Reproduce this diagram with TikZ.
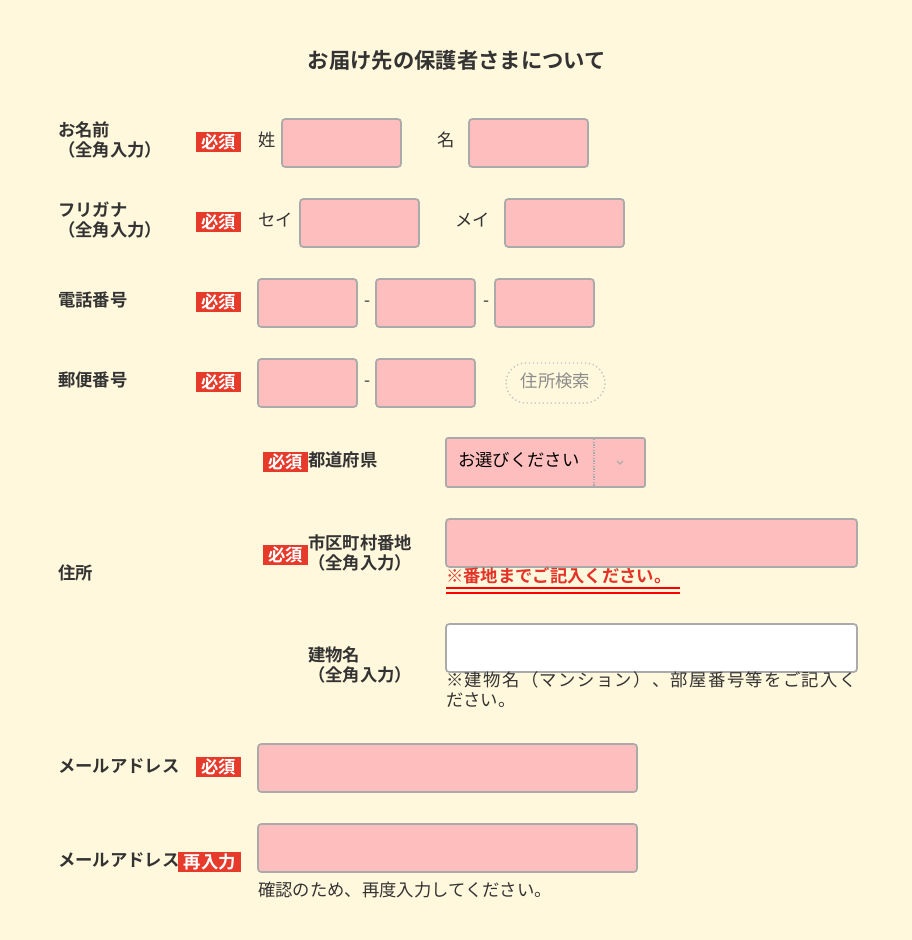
\documentclass[tikz,border=0pt]{standalone}
\usepackage{fontspec}
\setmainfont{Noto Sans CJK JP}[BoldFont={Noto Sans CJK JP Bold}]
\definecolor{bgc}{RGB}{255,248,220}
\definecolor{pinkf}{RGB}{255,190,190}
\definecolor{bord}{RGB}{170,170,170}
\definecolor{badgec}{RGB}{230,58,43}
\definecolor{txt}{RGB}{51,51,51}
\definecolor{redt}{RGB}{228,50,40}
\definecolor{btxt}{RGB}{140,140,140}
\begin{document}
\begin{tikzpicture}[x=0.75pt,y=-0.75pt,
  lbl/.style={anchor=west,inner sep=0pt,text=txt,font=\fontsize{13}{15}\selectfont\bfseries,align=left},
  plain/.style={anchor=west,inner sep=0pt,text=txt,font=\fontsize{13}{15}\selectfont,align=left},
  badge/.style={fill=badgec,text=white,inner sep=0pt,font=\fontsize{13}{13}\selectfont\bfseries,minimum height=15pt,anchor=west},
  field/.style={draw=bord,fill=pinkf,line width=1.3pt,rounded corners=2.5pt},
  wfield/.style={draw=bord,fill=white,line width=1.3pt,rounded corners=2.5pt}]
\fill[bgc] (0,0) rectangle (912,940);
\useasboundingbox (0,0) rectangle (912,940);
% title
\node[text=txt,font=\fontsize{16}{18}\selectfont\bfseries,inner sep=0pt] (title) at (457,60) {お届け先の保護者さまについて};
% row 1
\node[lbl] (l1) at (58,140) {お名前\\（全角入力）};
\node[badge,minimum width=33.75pt] (b1) at (196,142) {必須};
\node[plain] (sei) at (258,140) {姓};
\draw[field] (282,119) rectangle (401,167);
\node[plain] (mei) at (437,140) {名};
\draw[field] (469,119) rectangle (588,167);
% row 2
\node[lbl] (l2) at (58,220) {フリガナ\\（全角入力）};
\node[badge,minimum width=33.75pt] (b2) at (196,222) {必須};
\node[plain] (seik) at (258,220) {セイ};
\draw[field] (300,199) rectangle (419,247);
\node[plain] (meik) at (455,220) {メイ};
\draw[field] (505,199) rectangle (624,247);
% row 3
\node[lbl] (l3) at (58,300) {電話番号};
\node[badge,minimum width=33.75pt] (b3) at (196,302) {必須};
\draw[field] (258,279) rectangle (357,327);
\node[plain] (d1) at (364,304) {-};
\draw[field] (376,279) rectangle (475,327);
\node[plain] (d2) at (483,304) {-};
\draw[field] (495,279) rectangle (594,327);
% row 4
\node[lbl] (l4) at (58,380) {郵便番号};
\node[badge,minimum width=33.75pt] (b4) at (196,382) {必須};
\draw[field] (258,359) rectangle (357,407);
\node[plain] (d3) at (364,384) {-};
\draw[field] (376,359) rectangle (475,407);
\draw[draw=bord!70,dotted,line width=1pt,rounded corners=15pt] (506,363) rectangle (605,403);
\node[text=btxt,inner sep=0pt,font=\fontsize{13}{13}\selectfont] (srch) at (555.5,381) {住所検索};
% address
\node[lbl] (l5) at (58,573) {住所};
\node[badge,minimum width=33.75pt] (b5) at (263,462) {必須};
\node[lbl] (pref) at (308,460) {都道府県};
\draw[field,rounded corners=1.5pt] (446,438) rectangle (645,487);
\draw[bord,densely dotted,line width=1pt] (594,439) -- (594,486);
\node[plain,text=black] (sel) at (458,460) {お選びください};
\draw[bord,line width=0.8pt] (617,461) -- (620,464) -- (623,461);
\node[badge,minimum width=33.75pt] (b6) at (263,555) {必須};
\node[lbl] (city) at (308,553) {市区町村番地\\（全角入力）};
\draw[field] (446,519) rectangle (857,567);
\node[anchor=west,inner sep=0pt,text=redt,font=\fontsize{13}{13}\selectfont\bfseries] (note1) at (446,576) {※番地までご記入ください。};
\draw[red,line width=1.5pt] (446,588) -- (680,588);
\draw[red,line width=1.5pt] (446,592.5) -- (680,592.5);
\node[lbl] (bld) at (308,665) {建物名\\（全角入力）};
\draw[wfield] (446,624) rectangle (857,672);
\node[plain] (note2) at (446,690) {\addfontfeature{LetterSpace=8}※建物名（マンション）、部屋番号等をご記入く\\ださい。};
% mail
\node[lbl] (l6) at (58,766) {メールアドレス};
\node[badge,minimum width=33.75pt] (b7) at (196,767) {必須};
\draw[field] (258,744) rectangle (637,792);
\node[lbl] (l7) at (58,860) {メールアドレス};
\node[badge,minimum width=47.25pt] (b8) at (178,862) {再入力};
\draw[field] (258,824) rectangle (637,872);
\node[plain] (note3) at (258,890) {確認のため、再度入力してください。};
\end{tikzpicture}
\end{document}
